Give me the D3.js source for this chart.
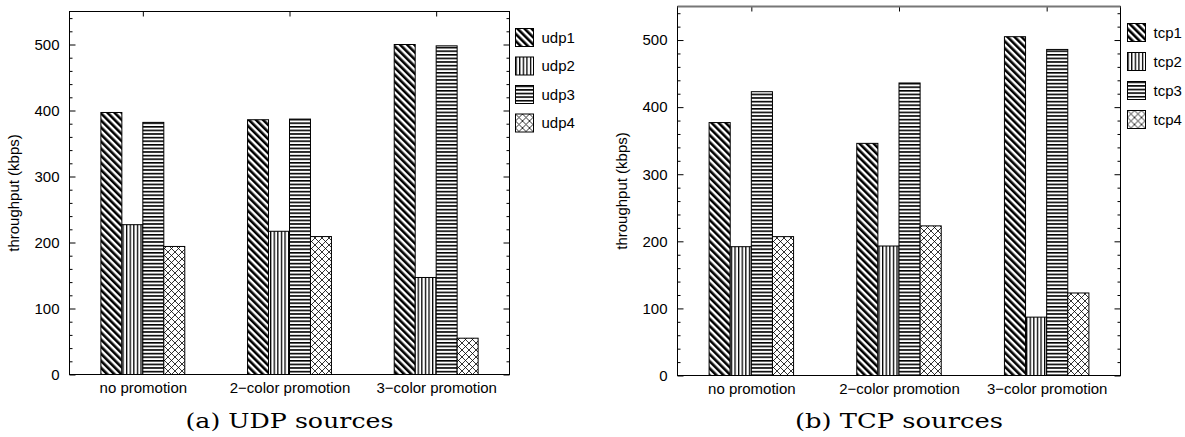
<!DOCTYPE html>
<html>
<head>
<meta charset="utf-8">
<script src="https://cdn.jsdelivr.net/npm/d3@7"></script>
<style>
body { margin: 0; background: #fff; }
svg text { font-family: "Liberation Sans", Arial, sans-serif; font-size: 15px; fill: #000; }
svg text.caption { font-family: "DejaVu Serif", "Liberation Serif", serif; font-size: 21px; }
</style>
</head>
<body>
<svg width="1185" height="437"></svg>
<script>
// values
var categories = ["no promotion", "2\u2212color promotion", "3\u2212color promotion"];
var yTicks = [0, 100, 200, 300, 400, 500];

var udpNames = ["udp1", "udp2", "udp3", "udp4"];
var udp1 = [397, 386, 500];
var udp2 = [227, 217, 147];
var udp3 = [382, 387, 498];
var udp4 = [194, 209, 55];

var tcpNames = ["tcp1", "tcp2", "tcp3", "tcp4"];
var tcp1 = [377, 346, 505];
var tcp2 = [192, 193, 87];
var tcp3 = [423, 436, 486];
var tcp4 = [207, 223, 123];

var svg = d3.select("svg");
var defs = svg.append("defs");

// fill patterns: diagonal, vertical, horizontal, crosshatch
var p = defs.append("pattern").attr("id", "pat0").attr("patternUnits", "userSpaceOnUse")
    .attr("width", 5).attr("height", 5).attr("patternTransform", "rotate(-45)");
p.append("rect").attr("width", 5).attr("height", 5).attr("fill", "#fff");
p.append("rect").attr("width", 2.6).attr("height", 5).attr("fill", "#000");

p = defs.append("pattern").attr("id", "pat1").attr("patternUnits", "userSpaceOnUse")
    .attr("width", 3.6).attr("height", 4);
p.append("rect").attr("width", 3.6).attr("height", 4).attr("fill", "#fff");
p.append("rect").attr("width", 1.3).attr("height", 4).attr("fill", "#000");

p = defs.append("pattern").attr("id", "pat2").attr("patternUnits", "userSpaceOnUse")
    .attr("width", 4).attr("height", 3.6);
p.append("rect").attr("width", 4).attr("height", 3.6).attr("fill", "#fff");
p.append("rect").attr("width", 4).attr("height", 1.6).attr("fill", "#000");

p = defs.append("pattern").attr("id", "pat3").attr("patternUnits", "userSpaceOnUse")
    .attr("width", 7).attr("height", 7);
p.append("rect").attr("width", 7).attr("height", 7).attr("fill", "#fff");
p.append("path").attr("d", "M0,0L7,7M7,0L0,7M-1,6L1,8M6,-1L8,1M-1,1L1,-1M6,8L8,6")
    .attr("stroke", "#000").attr("stroke-width", 0.8).attr("fill", "none");

function drawPanel(o) {
  var g = svg.append("g");
  var x = d3.scaleLinear().domain([0.5, 3.5]).range([o.left, o.right]);
  var y = d3.scaleLinear().domain([0, 550]).range([o.bottom, o.top]);
  var bw = x(0.643) - x(0.5);

  var minor = d3.range(20, 550, 20).filter(function(d) { return d % 100 != 0; });

  // y axis, ticks pointing inward
  g.append("g").attr("transform", "translate(" + o.left + ",0)")
    .call(d3.axisLeft(y).tickValues(yTicks).tickSize(-6).tickPadding(10).tickFormat(d3.format("d")));
  g.append("g").attr("transform", "translate(" + o.left + ",0)")
    .call(d3.axisLeft(y).tickValues(minor).tickSize(-3).tickFormat(""));
  g.append("g").attr("transform", "translate(" + o.right + ",0)")
    .call(d3.axisRight(y).tickValues(yTicks).tickSize(-6).tickFormat(""));
  g.append("g").attr("transform", "translate(" + o.right + ",0)")
    .call(d3.axisRight(y).tickValues(minor).tickSize(-3).tickFormat(""));
  g.append("g").attr("transform", "translate(0," + o.top + ")")
    .call(d3.axisTop(x).tickValues([1, 2, 3]).tickSize(-5).tickFormat(""));
  g.append("g").attr("transform", "translate(0," + o.bottom + ")")
    .call(d3.axisBottom(x).tickValues([1, 2, 3]).tickSize(-5).tickPadding(8)
      .tickFormat(function(d) { return categories[d - 1]; }));
  g.selectAll(".domain").remove();
  g.selectAll(".tick line").attr("stroke", "#000");

  // bars
  o.series.forEach(function(vals, j) {
    g.append("g").selectAll("rect").data(vals).enter().append("rect")
      .attr("x", function(d, i) { return x(i + 1) + (j - 2) * bw; })
      .attr("y", function(d) { return y(d); })
      .attr("width", bw)
      .attr("height", function(d) { return y(0) - y(d); })
      .attr("fill", "url(#pat" + j + ")")
      .attr("stroke", "#000").attr("stroke-width", 1);
  });

  // frame
  g.append("rect").attr("x", o.left).attr("y", o.top)
    .attr("width", o.right - o.left).attr("height", o.bottom - o.top)
    .attr("fill", "none").attr("stroke", "#000").attr("stroke-width", 1);
  if (o.grayTop) {
    g.append("line").attr("x1", o.left).attr("x2", o.right).attr("y1", o.top).attr("y2", o.top)
      .attr("stroke", "#777").attr("stroke-width", 2);
  }

  // legend
  var leg = g.append("g").selectAll("g").data(o.names).enter().append("g")
    .attr("transform", function(d, i) { return "translate(" + o.legX + "," + (o.legY + i * o.legStep) + ")"; });
  leg.append("rect").attr("width", 18).attr("height", 18)
    .attr("fill", function(d, i) { return "url(#pat" + i + ")"; })
    .attr("stroke", "#000").attr("stroke-width", 1);
  leg.append("text").attr("x", 26).attr("y", 14).text(function(d) { return d; });

  // y title
  g.append("text").attr("transform", "translate(" + o.titleX + "," + ((o.top + o.bottom) / 2) + ") rotate(-90)")
    .attr("text-anchor", "middle").text("throughput (kbps)");

  // caption
  g.append("text").attr("class", "caption").attr("x", (o.left + o.right) / 2).attr("y", 428)
    .attr("text-anchor", "middle").attr("textLength", 208).attr("lengthAdjust", "spacingAndGlyphs")
    .text(o.caption);
}

drawPanel({left: 69.5, right: 509.5, top: 11.5, bottom: 374.5,
  series: [udp1, udp2, udp3, udp4], names: udpNames,
  legX: 515.5, legY: 28.5, legStep: 28.5, titleX: 19, caption: "(a) UDP sources"});

drawPanel({left: 677.5, right: 1120.5, top: 6.5, bottom: 375.5,
  series: [tcp1, tcp2, tcp3, tcp4], names: tcpNames, grayTop: true,
  legX: 1127.5, legY: 23.5, legStep: 29, titleX: 627, caption: "(b) TCP sources"});
</script>
</body>
</html>
